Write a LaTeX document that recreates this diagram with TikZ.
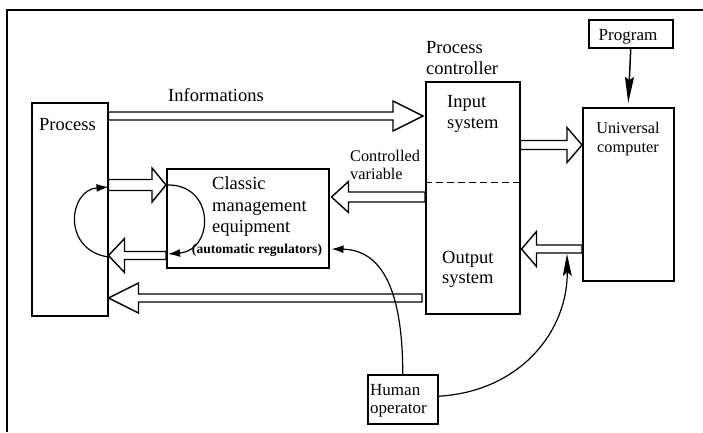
\documentclass[tikz,border=0pt]{standalone}
\usepackage{fontspec}
\setmainfont{Liberation Serif}
\usetikzlibrary{arrows.meta,calc}
\tikzset{
  box/.style={draw, line width=1.5pt, inner sep=0pt, anchor=north west},
  barrow/.style={draw, fill=white, line width=1.4pt, line join=miter},
  curvearrow/.style={draw, line width=1.2pt},
  big/.style={inner sep=0pt, font=\fontsize{18.5}{21}\selectfont},
  mid/.style={inner sep=0pt, font=\fontsize{17}{20}\selectfont},
  small/.style={inner sep=0pt, font=\fontsize{16.3}{20}\selectfont},
  tiny/.style={inner sep=0pt, font=\bfseries\fontsize{13.6}{16}\selectfont},
}
% #1 start point, #2 tip point, #3 centre y, #4 half shaft, #5 half head, #6 head length (signed)
\newcommand\blockarrow[6]{%
  \draw[barrow] let \p1=(#1), \p2=(#2), \p3=(0,#3) in
    (\x1,{\y3+#4pt}) -- ({\x2-(#6pt)},{\y3+#4pt}) -- ({\x2-(#6pt)},{\y3+#5pt})
    -- (\x2,\y3) -- ({\x2-(#6pt)},{\y3-#5pt}) -- ({\x2-(#6pt)},{\y3-#4pt})
    -- (\x1,{\y3-#4pt}) -- cycle;}
\begin{document}
\begin{tikzpicture}[x=1pt,y=-1pt]
\useasboundingbox (0,0) rectangle (703,432);
% frame (open at right and bottom)
\draw[line width=2.2pt] (7,432) -- (7,10) -- (703,10);

% boxes
\node[box, minimum width=76pt, minimum height=213pt] (proc) at (31,102) {};
\node[box, minimum width=162pt, minimum height=99pt] (cme) at (166,168) {};
\node[box, minimum width=94pt, minimum height=232pt] (pc) at (425,81) {};
\node[box, minimum width=91pt, minimum height=173pt] (uc) at (582,107) {};
\node[box, minimum width=84pt, minimum height=28pt] (prog) at (588,19) {};
\node[box, minimum width=70pt, minimum height=49pt] (hum) at (367,374) {};

\draw[line width=0.9pt, dash pattern=on 7pt off 4pt] (pc.west |- 0,182) -- (pc.east |- 0,182);

% texts
\node[big, anchor=base] (tinfo) at (216,101) {Informations};
\node[big, anchor=base west] (tproc) at (39,130) {Process};
\node[big, anchor=base west] (tpc1) at (426,53) {Process};
\node[big, anchor=base west] (tpc2) at (426,74) {controller};
\node[big, anchor=base west] (tin1) at (447,107) {Input};
\node[big, anchor=base west] (tin2) at (447,128) {system};
\node[big, anchor=base west] (tout1) at (442,263) {Output};
\node[big, anchor=base west] (tout2) at (442,283) {system};
\node[big, anchor=base west] (tcm1) at (212,189) {Classic};
\node[big, anchor=base west] (tcm2) at (212,211) {management};
\node[big, anchor=base west] (tcm3) at (212,232) {equipment};
\node[tiny, anchor=base] (tcm4) at (257,253) {(automatic regulators)};
\node[small, anchor=base west] (tcv1) at (350,161) {Controlled};
\node[small, anchor=base west] (tcv2) at (350,179) {variable};
\node[small, anchor=base] (tuc1) at (628,133) {Universal};
\node[small, anchor=base] (tuc2) at (628,152) {computer};
\node[mid, anchor=base] (tprog) at (628,40) {Program};
\node[mid, anchor=base west] (thum1) at (370,395) {Human};
\node[mid, anchor=base west] (thum2) at (370,413) {operator};

% block arrows
\blockarrow{proc.east}{[xshift=-2pt]pc.west}{116}{4}{15}{30}
\blockarrow{proc.east}{cme.west}{185}{5.5}{17}{14}
\blockarrow{cme.west}{proc.east}{255.5}{4}{17}{-16}
\blockarrow{[xshift=-3pt]pc.west}{proc.east}{298}{4}{15}{-30}
\blockarrow{pc.west}{[xshift=2pt]cme.east}{197}{5}{15.5}{-17}
\blockarrow{pc.east}{uc.west}{145}{4.5}{17.5}{15}
\blockarrow{uc.west}{[xshift=1pt]pc.east}{249}{4}{17.5}{-15}

% thin arrows
\coordinate (opin) at (567,254);
\draw[curvearrow, line width=1.5pt, -{Stealth[length=26pt,width=9pt,inset=3pt]}] (prog.south) -- ([yshift=4pt]uc.north);
\draw[curvearrow, -{Latex[length=12pt,width=8pt]}] (hum.north) .. controls +(0,-74) and +(55,1) .. ([xshift=2pt]cme.east |- 0,249);
\draw[curvearrow, -{Stealth[length=22pt,width=9pt,inset=4pt]}] ([yshift=3pt]hum.east) .. controls +(83,-5) and +(1,76) .. (opin);
\draw[curvearrow, -{Latex[length=12pt,width=8pt]}] (proc.east |- 0,257) .. controls +(-47,-7) and +(-40,3) .. (proc.east |- 0,187);
\draw[curvearrow, -{Latex[length=12pt,width=8pt]}] (cme.west |- 0,185) .. controls +(49,-2) and +(47,-4) .. ([xshift=2pt]cme.west |- 0,254);
\end{tikzpicture}
\end{document}
